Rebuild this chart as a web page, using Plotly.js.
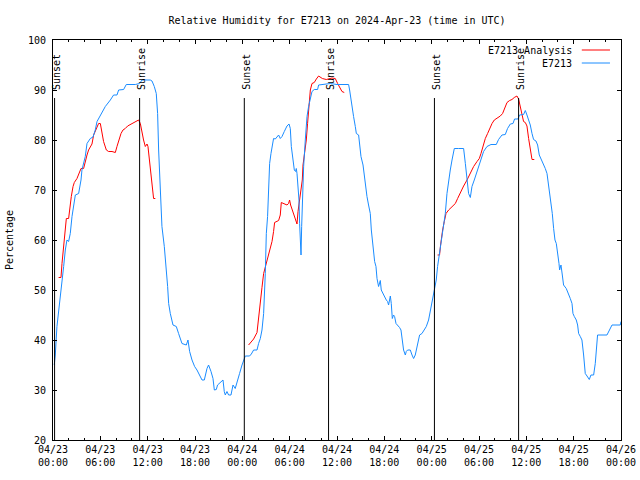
<!DOCTYPE html>
<html>
<head>
<meta charset="utf-8">
<script src="https://cdn.plot.ly/plotly-3.0.1.min.js"></script>
<style>html,body{margin:0;padding:0;background:#fff;}#chart{width:640px;height:480px;}</style>
</head>
<body>
<div id="chart"></div>
<script>
// Hours since 2024-04-23 00:00 UTC
const analysisHours = [0.71,1.01,1.14,1.27,1.43,1.56,1.69,1.98,2.1,2.32,2.54,2.7,3.04,3.25,3.55,3.88,4.09,4.31,4.51,4.73,4.94,5.15,5.49,5.78,6.0,6.21,6.41,6.76,7.05,7.48,7.9,8.11,8.32,8.62,8.87,9.16,9.46,9.8,10.22,10.56,10.85,11.07,11.28,11.48,11.7,11.92,12.04,12.17,12.33,12.55,12.75,12.97,
  null,
  24.79,25.1,25.43,25.86,26.06,26.28,26.49,26.7,26.91,27.12,27.41,27.76,27.96,28.09,28.6,28.81,28.94,29.3,29.66,29.86,29.99,30.12,30.42,30.72,30.93,31.06,31.22,31.35,31.6,31.69,31.89,32.11,32.27,32.45,32.62,32.83,33.12,33.38,33.67,34.14,34.64,35.37,35.78,36.08,36.42,36.63,36.92,
  null,
  48.75,49.0,49.13,49.22,49.39,49.6,49.82,50.15,50.58,51.0,51.29,51.63,52.05,52.48,52.9,53.32,53.75,54.04,54.25,54.51,54.8,55.09,55.34,55.65,55.94,56.28,56.7,56.99,57.21,57.55,57.88,58.18,58.47,58.81,59.02,59.23,59.45,59.65,59.87,60.08,60.29,60.41,60.59,60.72,61.01];
const analysisRH = [52.5,52.5,55.3,57.3,60.7,62,64.3,64.3,66,68.7,70.7,71.5,72.3,73.3,74.3,74.3,76,77,78,78.7,79.2,81,82.3,83.3,83.3,81.7,79.7,78,77.7,77.7,77.5,78.7,80,81.3,82,82.3,82.8,83.1,83.3,83.7,84,83.3,81.3,80,78.7,79.2,78.7,76.7,74,71,68.3,68.3,
  null,
  39,39.5,40.2,41.5,44,47.3,50.5,53.3,54.5,56,57.7,59.7,61.7,63.5,63.9,65,67.5,67.3,67,67.3,68,67,65.7,64.3,63.2,65.7,67.7,69.3,72,75,77.3,80,83.3,86.7,90,91.3,91.5,92.2,92.8,92.3,92.1,92.4,92.3,91.3,90.1,89.7,89.5,
  null,
  57,57,59,60.3,62,63.7,65.3,66,66.7,67.3,68.3,69.5,70.8,72,73.4,74.7,75.7,76.3,77.3,78.7,80.3,81.3,82.3,83.3,84,84.3,84.8,85.3,86.1,87.5,87.9,88.1,88.5,88.8,88.2,86.7,85,83.7,83.5,82.8,80.3,79.3,77.3,76.1,76.1];

const stationHours = [0.16,0.29,0.5,0.84,1.14,1.35,1.56,1.77,1.98,2.19,2.41,2.83,3.25,3.55,3.67,4.09,4.31,4.73,5.07,5.36,5.58,6.0,6.63,7.27,7.68,8.11,8.32,8.95,9.29,10.43,10.98,11.28,12.33,12.55,12.84,13.09,13.26,13.39,13.6,13.81,14.11,14.36,14.53,14.66,14.87,15.21,15.63,15.92,16.35,16.9,17.11,17.32,17.62,17.95,
  18.25,18.89,19.18,19.52,19.72,20.03,20.28,20.45,20.7,20.86,21.42,21.55,21.71,21.84,22.05,22.26,22.56,22.82,23.1,23.4,23.65,23.96,24.16,24.37,24.92,25.14,25.43,25.86,26.06,26.28,26.49,26.7,26.91,27.04,27.2,27.33,27.46,27.63,27.76,27.96,28.18,28.39,28.6,28.81,29.03,29.32,29.66,29.92,30.08,30.21,30.42,30.59,30.75,30.84,30.93,31.06,31.18,31.26,31.35,31.44,31.52,31.64,31.77,31.98,32.2,32.4,32.62,32.83,33.12,33.54,33.67,34.3,35.15,36.0,37.47,37.6,37.77,37.9,38.1,38.32,38.45,38.74,38.87,39.04,39.3,39.46,39.59,39.8,40.0,40.22,40.35,40.51,40.64,40.77,40.94,41.07,41.27,41.4,41.49,41.61,41.78,41.99,42.25,42.41,42.54,42.76,42.88,43.01,43.17,43.3,43.48,43.68,43.93,44.11,44.24,44.44,44.66,44.78,44.95,45.29,45.51,45.71,45.92,46.22,46.47,46.77,47.06,47.32,47.61,47.82,48.04,48.33,48.58,48.75,48.93,49.09,49.31,49.51,49.73,49.94,50.15,50.36,50.58,50.87,51.42,52.05,52.27,52.48,52.68,52.9,53.11,53.4,53.74,53.95,54.25,54.58,55.01,55.52,56.19,56.48,56.91,57.33,57.62,57.97,58.31,58.51,58.94,59.14,59.65,59.87,60.08,60.29,60.5,60.72,60.92,61.22,61.43,61.64,61.86,62.11,62.4,62.62,62.75,62.95,63.13,63.29,63.46,63.63,63.8,63.96,64.14,64.22,64.39,64.56,64.72,65.06,65.36,65.57,65.79,65.91,66.08,66.33,66.5,66.63,66.84,67.05,67.26,67.47,67.69,67.98,68.19,68.53,68.74,68.87,69.03,70.22,70.55,70.86,71.91,72.0];
const stationRH = [35,37,42.7,47.3,51,54.7,58,60,59.7,61.3,64.7,69,69.3,72,74,76.7,79.3,80.3,80.6,82,83.7,85,86.7,88,89,89,90,90.1,91.1,91.1,91.3,92,92,91.8,90.7,89.3,85.3,78,70,62.7,58.7,54.7,50.7,47.3,45.3,43,42.7,41.3,39.3,39,40,37.7,36,34.7,
  34,32,32,34.3,35,33.7,32.3,30,30.1,31,31.7,32,29.7,29,29.7,29,29,31,30.3,31.7,33.3,35,36,36.8,36.8,37.2,38,38,39.3,40.3,42,45.3,53.3,61.3,64.7,70.7,75.3,77.3,78.7,80.3,80.2,80.7,81,80.3,80.7,81.7,82.8,83.2,82.3,78.7,76,74,73.7,74.3,73.3,71.3,68,63.3,60,57,62.7,70.7,74.7,80,84.7,86.7,88.3,89.7,90.1,90.1,91,91.1,91.3,91.1,91.1,90,88,86.7,84.7,82.7,81.3,81,78.7,76.7,75,72.7,70.7,68.7,67,65.3,62,59.3,57.3,55.7,54.7,52.3,50.7,51.7,51.9,50,49.3,48.8,48,47.7,47,48.8,47.3,44.3,45,44.7,43.3,43,42.5,42,40,38,37,37.7,38,38,37,36.3,37,39.3,41,41.3,42,42.7,44,45.7,47.3,49.3,52,54.7,56.7,58.7,60.7,62.7,65.3,69.3,72,74,76,78.3,78.3,78.3,75.3,72,69.3,68.5,70.7,72,73.7,74.7,76.3,77.7,78.7,79.1,79.1,80.1,81,81.1,82.3,83.2,83.3,84.2,84.2,85,85.1,85.9,85,84,83,81.3,80.1,79.8,79,77,76.3,75.3,74.3,73.3,71.7,70,68,65.3,62.3,60,59.3,57.7,55.3,54,55,53,51,50.3,49.3,48.3,47.3,45.3,44.7,44,43,41.3,40.7,40,37,33.3,32.8,32.1,33,33,35.3,38,41,41,42,43,43,43.7];

const sunEventHours = [0.2, 10.98, 24.25, 34.93, 48.35, 59.02];
const sunEventLabels = ['Sunset','Sunrise','Sunset','Sunrise','Sunset','Sunrise'];

const tickHours = [0,6,12,18,24,30,36,42,48,54,60,66,72];
const tickDays  = ['04/23','04/23','04/23','04/23','04/24','04/24','04/24','04/24','04/25','04/25','04/25','04/25','04/26'];
const tickTimes = ['00:00','06:00','12:00','18:00','00:00','06:00','12:00','18:00','00:00','06:00','12:00','18:00','00:00'];

const seriesNames = ['E7213 Analysis','E7213'];
const seriesColors = ['#ff0000','#1a8cff'];

const FONT = {family:'"DejaVu Sans Mono", "Liberation Mono", monospace', size:10, color:'#000'};

const traces = [
  {x: analysisHours, y: analysisRH, name: seriesNames[0], type:'scatter', mode:'lines',
   line:{color:seriesColors[0], width:1}, connectgaps:false},
  {x: stationHours, y: stationRH, name: seriesNames[1], type:'scatter', mode:'lines',
   line:{color:seriesColors[1], width:1}}
];

const shapes = sunEventHours.map(h => ({
  type:'line', xref:'x', yref:'y', x0:h, x1:h, y0:20, y1:88.4,
  line:{color:'#000', width:1}
}));
const annotations = sunEventHours.map((h,i) => ({
  x:h, y:89.6, xref:'x', yref:'y', text:sunEventLabels[i], textangle:-90,
  showarrow:false, xanchor:'center', yanchor:'bottom', xshift:1.5, font:FONT
}));

// gnuplot-style legend: text on the left, line sample on the right
const legY = [0.975, 0.9425];
seriesNames.forEach((n,i) => {
  annotations.push({x:0.9173, y:legY[i], xref:'paper', yref:'paper', text:n, showarrow:false,
    xanchor:'right', yanchor:'middle', font:FONT});
  shapes.push({type:'line', xref:'paper', yref:'paper', x0:0.931, x1:0.9806, y0:legY[i], y1:legY[i],
    line:{color:seriesColors[i], width:1}});
});

const layout = {
  width:640, height:480,
  margin:{l:53, r:19, t:40, b:40, pad:0},
  paper_bgcolor:'#fff', plot_bgcolor:'#fff',
  font:FONT,
  showlegend:false,
  title:{text:'Relative Humidity for E7213 on 2024-Apr-23 (time in UTC)', font:FONT,
         x:0.5, xref:'paper', y:1-20/480, yref:'container', yanchor:'middle'},
  xaxis:{range:[0,72], tickvals:tickHours, ticktext:tickHours.map((h,i)=>tickDays[i]+'<br>'+tickTimes[i]),
         ticks:'inside', ticklen:4, tickwidth:1, tickcolor:'#000',
         minor:{tickvals:[2,4,8,10,14,16,20,22,26,28,32,34,38,40,44,46,50,52,56,58,62,64,68,70], ticks:'inside', ticklen:2, tickcolor:'#000', showgrid:false},
         showline:true, linecolor:'#000', linewidth:1, mirror:'allticks',
         showgrid:false, zeroline:false, tickfont:FONT, fixedrange:true},
  yaxis:{range:[20,100], dtick:10, tick0:20,
         ticks:'inside', ticklen:4, tickwidth:1, tickcolor:'#000',
         showline:true, linecolor:'#000', linewidth:1, mirror:'allticks',
         showgrid:false, zeroline:false, tickfont:FONT, ticklabelstandoff:4,
         title:{text:'Percentage', font:FONT, standoff:12}, fixedrange:true},
  shapes: shapes,
  annotations: annotations
};

Plotly.newPlot('chart', traces, layout, {staticPlot:true, displayModeBar:false});
</script>
</body>
</html>
